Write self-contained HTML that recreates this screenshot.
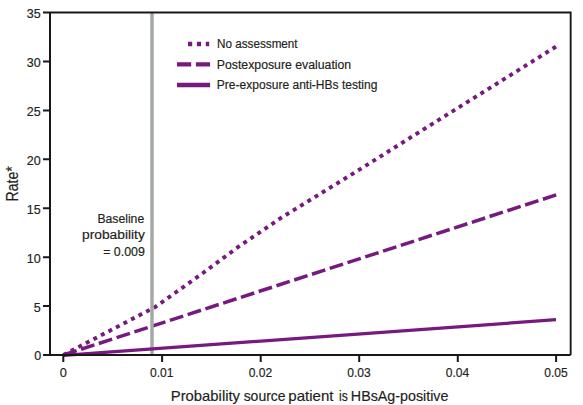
<!DOCTYPE html>
<html><head><meta charset="utf-8">
<style>
html,body{margin:0;padding:0;background:#fff;}
body{width:583px;height:405px;overflow:hidden;position:relative;}
svg{position:absolute;left:0;top:0;}
text{font-family:"Liberation Sans",sans-serif;fill:#231f20;stroke:#231f20;stroke-width:0.18px;}
</style></head><body>
<svg width="583" height="405" viewBox="0 0 583 405">
  <!-- data lines -->
  <g stroke="#761a80" fill="none">
    <path d="M63.3 355 L556.2 194.9" stroke-width="3.5" stroke-dasharray="14 4.676"/>
    <path d="M63.3 355 L155.2 307 L203.7 272.5 L237.9 247.2 L280.1 218.5 L301.8 205.1 L359.8 169.4 L417.3 133.3 L556 46.64" stroke-width="3.9" stroke-dasharray="4 4.497"/>
  </g>
  <!-- baseline probability gray line -->
  <line x1="152" y1="12.5" x2="152" y2="355" stroke="#a3a8a7" stroke-width="3.5"/>
  <path d="M63.3 355.3 L556 319.7" stroke="#761a80" fill="none" stroke-width="3.2"/>
  <!-- frame -->
  <g stroke="#1a1718" fill="none">
    <path d="M43 12.5 H570.65 V355" stroke-width="1.9"/>
    <path d="M570.65 355 H43 M50 12.5 V355" stroke-width="2"/>
    <path d="M43 61.4 H50 M43 110.4 H50 M43 159.3 H50 M43 208.2 H50 M43 257.2 H50 M43 306.1 H50" stroke-width="2"/>
    <path d="M63.3 355 V362 M162.1 355 V362 M260.7 355 V362 M359.2 355 V362 M457.8 355 V362 M556.1 355 V362" stroke-width="2"/>
  </g>
  <!-- legend -->
  <g stroke="#761a80" fill="none" stroke-width="4.4">
    <path d="M188 44 H209.2" stroke-dasharray="4.2 4.7"/>
    <path d="M177 64.4 H210.1" stroke-dasharray="14.2 4.7"/>
    <path d="M177 85 H210.1"/>
  </g>
  <g font-size="12.5" lengthAdjust="spacingAndGlyphs">
    <text x="217.06" y="48" textLength="80.58" lengthAdjust="spacingAndGlyphs">No assessment</text>
    <text x="216.82" y="68.65" textLength="134.37" lengthAdjust="spacingAndGlyphs">Postexposure evaluation</text>
    <text x="216.84" y="88.95" textLength="160.59" lengthAdjust="spacingAndGlyphs">Pre-exposure anti-HBs testing</text>
  </g>
  <!-- baseline annotation -->
  <g font-size="12.3">
    <text x="97.41" y="223.3" textLength="46.76" lengthAdjust="spacingAndGlyphs">Baseline</text>
    <text x="82.09" y="239" textLength="62.69" lengthAdjust="spacingAndGlyphs">probability</text>
    <text x="103.2" y="255.6" textLength="41.68" lengthAdjust="spacingAndGlyphs">= 0.009</text>
  </g>
  <!-- y labels -->
  <g font-size="12.5" text-anchor="end">
    <text x="40.7" y="18.1">35</text>
    <text x="40.7" y="67">30</text>
    <text x="40.7" y="116">25</text>
    <text x="40.7" y="164.9">20</text>
    <text x="40.7" y="213.8">15</text>
    <text x="40.7" y="262.8">10</text>
    <text x="40.7" y="311.7">5</text>
    <text x="41.2" y="359.9">0</text>
  </g>
  <!-- x labels -->
  <g font-size="12.8" text-anchor="middle">
    <text x="63.3" y="376.9">0</text>
    <text x="161.8" y="376.9" textLength="23.5" lengthAdjust="spacingAndGlyphs">0.01</text>
    <text x="260.4" y="376.9" textLength="23.5" lengthAdjust="spacingAndGlyphs">0.02</text>
    <text x="359" y="376.9" textLength="23.5" lengthAdjust="spacingAndGlyphs">0.03</text>
    <text x="457.5" y="376.9" textLength="23.5" lengthAdjust="spacingAndGlyphs">0.04</text>
    <text x="556" y="376.9" textLength="23.5" lengthAdjust="spacingAndGlyphs">0.05</text>
  </g>
  <g font-size="14.6">
    <text x="170.78" y="401.3" textLength="69.26" lengthAdjust="spacingAndGlyphs">Probability</text>
    <text x="243.63" y="401.3" textLength="41.98" lengthAdjust="spacingAndGlyphs">source</text>
    <text x="288.36" y="401.3" textLength="45.15" lengthAdjust="spacingAndGlyphs">patient</text>
    <text x="339.08" y="401.3" textLength="8.75" lengthAdjust="spacingAndGlyphs">is</text>
    <text x="350.82" y="401.3" textLength="97.63" lengthAdjust="spacingAndGlyphs">HBsAg-positive</text>
  </g>
  <text transform="translate(17.8 183.9) rotate(-90)" font-size="16" text-anchor="middle" textLength="35.3" lengthAdjust="spacingAndGlyphs">Rate*</text>
</svg>
</body></html>
